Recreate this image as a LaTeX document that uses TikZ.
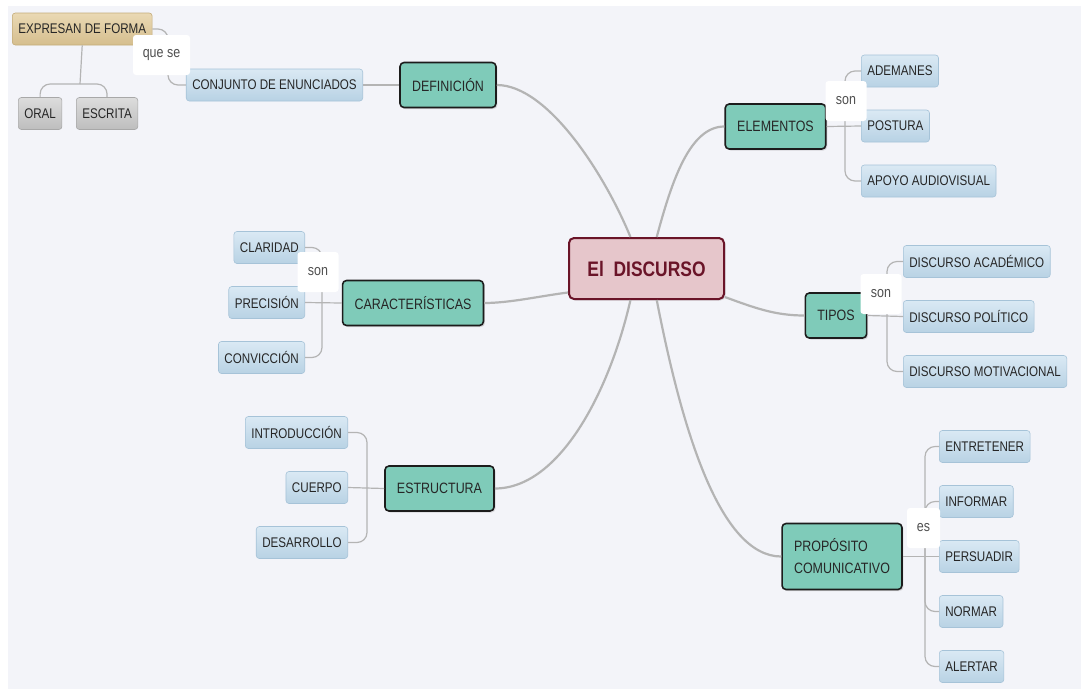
\documentclass[tikz,border=0pt]{standalone}
\usepackage{fontspec}
\setmainfont{Liberation Sans}[FakeStretch=0.83]
\usepackage{xcolor}
\definecolor{mapBack}{RGB}{243,244,249}
\definecolor{rootBody}{RGB}{230,198,203}
\definecolor{rootBorder}{RGB}{106,20,40}
\definecolor{topicBody}{RGB}{127,203,185}
\definecolor{topicBorder}{RGB}{28,28,28}
\definecolor{leafTop}{RGB}{218,233,244}
\definecolor{leafBottom}{RGB}{184,210,228}
\definecolor{leafBorder}{RGB}{166,195,216}
\definecolor{tanTop}{RGB}{234,217,180}
\definecolor{tanBottom}{RGB}{213,190,142}
\definecolor{tanBorder}{RGB}{196,172,122}
\definecolor{greyTop}{RGB}{220,220,220}
\definecolor{greyBottom}{RGB}{190,190,190}
\definecolor{greyBorder}{RGB}{168,168,168}
\definecolor{linkLine}{RGB}{180,180,180}
\definecolor{inkText}{RGB}{38,38,38}
\definecolor{wordText}{RGB}{80,80,80}
\usepackage{tikz}
\usetikzlibrary{shadows}
\tikzstyle{root} = [rectangle, rounded corners=5pt, fill=rootBody, draw=rootBorder, line width=2pt,
        minimum width=155pt, minimum height=61pt, text=rootBorder,
        font={\fontsize{21}{24}\selectfont\bfseries},
        drop shadow={shadow xshift=1.5pt, shadow yshift=-1.5pt, opacity=0.25}]
\tikzstyle{topic} = [rectangle, rounded corners=4pt, fill=topicBody, draw=topicBorder, line width=1.6pt,
        minimum height=45pt, inner xsep=12pt, text=inkText, font={\fontsize{15}{22}\selectfont},
        drop shadow={shadow xshift=1.5pt, shadow yshift=-1.5pt, opacity=0.25}]
\tikzstyle{leaf} = [rectangle, rounded corners=3pt, top color=leafTop, bottom color=leafBottom,
        draw=leafBorder, line width=0.6pt, minimum height=32pt, inner xsep=6pt,
        text=inkText, font={\fontsize{14}{16}\selectfont}]
\tikzstyle{tanleaf} = [leaf, top color=tanTop, bottom color=tanBottom, draw=tanBorder]
\tikzstyle{greyleaf} = [leaf, top color=greyTop, bottom color=greyBottom, draw=greyBorder]
\tikzstyle{linkword} = [rectangle, rounded corners=3pt, fill=white, minimum width=41pt, minimum height=40pt,
        text=wordText, font={\fontsize{15}{17}\selectfont}]
\tikzstyle{trunk} = [draw=linkLine, line width=2.2pt]
\tikzstyle{branch} = [draw=linkLine, line width=1.2pt, rounded corners=10pt]

\begin{document}
\begin{tikzpicture}[x=1pt, y=-1pt]
        \useasboundingbox (0,0) rectangle (1081,689);
        \fill [white] (0,0) rectangle (1081,689);
        \fill [mapBack] (8,6) rectangle (1081,689);

        \node [root] (root) at (646.5,268.5) {El\ \ DISCURSO};

        \node [topic] (definicion) at (448,85) {DEFINICIÓN};
        \node [topic] (elementos) at (775.5,126.5) {ELEMENTOS};
        \node [topic] (tipos) at (836,315.5) {TIPOS};
        \node [topic, align=left, minimum height=66pt] (proposito) at (842,556.5) {PROPÓSITO\\COMUNICATIVO};
        \node [topic] (caracteristicas) at (413,303) {CARACTERÍSTICAS};
        \node [topic] (estructura) at (439.5,488.5) {ESTRUCTURA};

        \node [leaf, anchor=east] (conjunto) at (363,85) {CONJUNTO DE ENUNCIADOS};
        \node [tanleaf, anchor=west] (expresan) at (12,29) {EXPRESAN DE FORMA};
        \node [greyleaf, anchor=west] (oral) at (18,113.5) {ORAL};
        \node [greyleaf, anchor=west] (escrita) at (76,113.5) {ESCRITA};

        \node [leaf, anchor=west] (ademanes) at (861,71) {ADEMANES};
        \node [leaf, anchor=west] (postura) at (861,126) {POSTURA};
        \node [leaf, anchor=west] (apoyo) at (861,181) {APOYO AUDIOVISUAL};

        \node [leaf, anchor=west] (academico) at (903,261.5) {DISCURSO ACADÉMICO};
        \node [leaf, anchor=west] (politico) at (903,316.5) {DISCURSO POLÍTICO};
        \node [leaf, anchor=west] (motivacional) at (903,371.5) {DISCURSO MOTIVACIONAL};

        \node [leaf, anchor=west] (entretener) at (939,446.5) {ENTRETENER};
        \node [leaf, anchor=west] (informar) at (939,501.5) {INFORMAR};
        \node [leaf, anchor=west] (persuadir) at (939,556.5) {PERSUADIR};
        \node [leaf, anchor=west] (normar) at (939,611.5) {NORMAR};
        \node [leaf, anchor=west] (alertar) at (939,666.5) {ALERTAR};

        \node [leaf, anchor=east] (claridad) at (305,247.5) {CLARIDAD};
        \node [leaf, anchor=east] (precision) at (305,302.5) {PRECISIÓN};
        \node [leaf, anchor=east] (conviccion) at (305,357.5) {CONVICCIÓN};

        \node [leaf, anchor=east] (introduccion) at (348,432.5) {INTRODUCCIÓN};
        \node [leaf, anchor=east] (cuerpo) at (348,487.5) {CUERPO};
        \node [leaf, anchor=east] (desarrollo) at (348,542.5) {DESARROLLO};

        \coordinate (queBus) at (168,85);
        \coordinate (formaBus) at (80,84);
        \coordinate (elemBus) at (845,126.5);
        \coordinate (tipoBus) at (887,316);
        \coordinate (propBus) at (925,556.5);
        \coordinate (caraBus) at (322,302.5);
        \coordinate (estrBus) at (367,488);

        \draw [trunk] (root.117) .. controls (605,175) and (548,85) .. (definicion.east);
        \draw [trunk] (root.72) .. controls (672,180) and (690,126.5) .. (elementos.west);
        \draw [trunk] (root.340) .. controls (755,308) and (775,315.5) .. (tipos.west);
        \draw [trunk] (root.288) .. controls (682,430) and (720,556.5) .. (proposito.west);
        \draw [trunk] (root.243) .. controls (610,390) and (560,488.5) .. (estructura.east);
        \draw [trunk] (root.197) .. controls (540,296) and (510,303) .. (caracteristicas.east);

        \draw [branch] (definicion.west) -- (conjunto.east);
        \draw [branch] (conjunto.west) -- (queBus) |- (expresan.east);
        \draw [branch] (expresan.south) -- (formaBus);
        \draw [branch] (oral.north) |- (formaBus) -| (escrita.north);

        \draw [branch] (elementos.east) -- (postura.west);
        \draw [branch] (ademanes.west) -| (elemBus) |- (apoyo.west);

        \draw [branch] (tipos.east) -- (politico.west);
        \draw [branch] (academico.west) -| (tipoBus) |- (motivacional.west);

        \draw [branch] (proposito.east) -- (persuadir.west);
        \draw [branch] (entretener.west) -| (propBus) |- (alertar.west);
        \draw [branch] (informar.west) -| (propBus);
        \draw [branch] (normar.west) -| (propBus);

        \draw [branch] (caracteristicas.west) -- (precision.east);
        \draw [branch] (claridad.east) -| (caraBus) |- (conviccion.east);

        \draw [branch] (estructura.west) -- (cuerpo.east);
        \draw [branch] (introduccion.east) -| (estrBus) |- (desarrollo.east);

        \node [linkword, minimum width=57pt] (queWord) at (161.5,55) {que se};
        \node [linkword] (elemWord) at (846,101) {son};
        \node [linkword] (tipoWord) at (881,294) {son};
        \node [linkword, minimum width=33pt] (propWord) at (923.5,528) {es};
        \node [linkword] (caraWord) at (318,272) {son};
    \end{tikzpicture}
\end{document}
